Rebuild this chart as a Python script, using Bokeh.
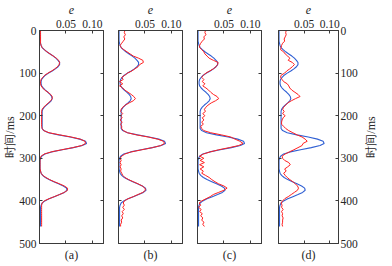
import math
from bokeh.plotting import figure
from bokeh.layouts import row
from bokeh.models import Range1d, LinearAxis, FixedTicker, PrintfTickFormatter
from bokeh.embed import file_html
from bokeh.resources import INLINE

# ---------------- data ----------------
time_ms = list(range(0, 465, 5))

e_true = [
    0.001, 0.001, 0.001, 0.001, 0.001, 0.001, 0.002, 0.003, 0.005, 0.009,
    0.014, 0.020, 0.026, 0.031, 0.035, 0.038, 0.038, 0.035, 0.030, 0.024,
    0.017, 0.011, 0.007, 0.004, 0.003, 0.003, 0.004, 0.007, 0.011, 0.016,
    0.020, 0.023, 0.024, 0.022, 0.018, 0.013, 0.009, 0.006, 0.005, 0.005,
    0.005, 0.005, 0.005, 0.005, 0.005, 0.005, 0.005, 0.008, 0.017, 0.036,
    0.058, 0.076, 0.087, 0.089, 0.081, 0.064, 0.043, 0.023, 0.010, 0.004,
    0.002, 0.001, 0.001, 0.001, 0.001, 0.001, 0.002, 0.003, 0.006, 0.011,
    0.018, 0.027, 0.036, 0.045, 0.051, 0.052, 0.047, 0.038, 0.028, 0.018,
    0.010, 0.005, 0.003, 0.002, 0.002, 0.002, 0.002, 0.002, 0.002, 0.002,
    0.002, 0.002, 0.002,
]

e_a = [
    0.002, 0.002, 0.002, 0.002, 0.002, 0.002, 0.002, 0.003, 0.005, 0.009,
    0.014, 0.020, 0.026, 0.032, 0.036, 0.038, 0.037, 0.034, 0.029, 0.023,
    0.016, 0.010, 0.006, 0.003, 0.002, 0.002, 0.003, 0.006, 0.010, 0.016,
    0.021, 0.024, 0.024, 0.021, 0.017, 0.012, 0.008, 0.005, 0.004, 0.004,
    0.004, 0.004, 0.004, 0.004, 0.004, 0.004, 0.005, 0.008, 0.018, 0.038,
    0.060, 0.077, 0.086, 0.087, 0.080, 0.063, 0.042, 0.022, 0.009, 0.003,
    0.001, 0.001, 0.001, 0.001, 0.001, 0.001, 0.002, 0.003, 0.006, 0.012,
    0.019, 0.028, 0.038, 0.047, 0.053, 0.053, 0.047, 0.038, 0.028, 0.018,
    0.009, 0.005, 0.004, 0.004, 0.004, 0.004, 0.004, 0.004, 0.004, 0.004,
    0.004, 0.004, 0.004,
]

e_b = [
    0.012, 0.011, 0.013, 0.010, 0.012, 0.009, 0.006, 0.003, 0.005, 0.010,
    0.016, 0.022, 0.028, 0.038, 0.046, 0.047, 0.040, 0.037, 0.031, 0.025,
    0.017, 0.012, 0.006, 0.009, 0.002, 0.008, 0.002, 0.008, 0.012, 0.018,
    0.024, 0.029, 0.032, 0.028, 0.020, 0.013, 0.008, 0.005, 0.004, 0.008,
    0.004, 0.007, 0.003, 0.007, 0.004, 0.006, 0.006, 0.009, 0.017, 0.034,
    0.056, 0.074, 0.085, 0.087, 0.080, 0.064, 0.044, 0.024, 0.012, 0.006,
    0.003, 0.005, 0.003, 0.005, 0.003, 0.005, 0.004, 0.006, 0.008, 0.012,
    0.019, 0.028, 0.037, 0.045, 0.050, 0.051, 0.046, 0.037, 0.028, 0.018,
    0.011, 0.009, 0.011, 0.008, 0.011, 0.007, 0.009, 0.006, 0.008, 0.005,
    0.006, 0.004, 0.004,
]

e_c = [
    0.015, 0.014, 0.016, 0.012, 0.013, 0.009, 0.006, 0.004, 0.004, 0.008,
    0.012, 0.014, 0.018, 0.022, 0.030, 0.039, 0.038, 0.035, 0.030, 0.023,
    0.016, 0.011, 0.008, 0.012, 0.009, 0.014, 0.010, 0.016, 0.021, 0.025,
    0.030, 0.037, 0.040, 0.034, 0.026, 0.020, 0.016, 0.013, 0.015, 0.010,
    0.014, 0.009, 0.012, 0.008, 0.011, 0.006, 0.008, 0.012, 0.025, 0.045,
    0.063, 0.071, 0.080, 0.086, 0.078, 0.060, 0.040, 0.024, 0.011, 0.004,
    0.012, 0.005, 0.013, 0.004, 0.012, 0.005, 0.011, 0.008, 0.015, 0.022,
    0.027, 0.033, 0.040, 0.050, 0.056, 0.050, 0.040, 0.030, 0.024, 0.016,
    0.008, 0.003, 0.006, 0.002, 0.007, 0.004, 0.009, 0.006, 0.010, 0.008,
    0.012, 0.010, 0.013,
]

e_d = [
    0.015, 0.014, 0.015, 0.013, 0.011, 0.012, 0.008, 0.006, 0.005, 0.004,
    0.010, 0.013, 0.018, 0.022, 0.019, 0.027, 0.031, 0.027, 0.022, 0.016,
    0.012, 0.005, 0.004, 0.007, 0.010, 0.017, 0.020, 0.022, 0.026, 0.032,
    0.038, 0.042, 0.033, 0.025, 0.018, 0.014, 0.010, 0.008, 0.011, 0.008,
    0.013, 0.009, 0.007, 0.006, 0.006, 0.010, 0.014, 0.020, 0.028, 0.036,
    0.046, 0.052, 0.056, 0.048, 0.046, 0.038, 0.030, 0.021, 0.013, 0.007,
    0.008, 0.012, 0.020, 0.023, 0.018, 0.012, 0.015, 0.010, 0.013, 0.017,
    0.022, 0.028, 0.033, 0.037, 0.039, 0.037, 0.031, 0.025, 0.019, 0.012,
    0.008, 0.005, 0.007, 0.006, 0.009, 0.006, 0.008, 0.007, 0.009, 0.008,
    0.008, 0.007, 0.008,
]

red_series = [e_a, e_b, e_c, e_d]
panel_labels = ["(a)", "(b)", "(c)", "(d)"]
x_ticks = [0.05, 0.10]
y_ticks = [0, 100, 200, 300, 400, 500]
x_label = "e"
y_label = "时间/ms"

# ---------------- style ----------------
FONT = "Liberation Serif"
AXC = "#3a3a3a"
TXT = "#262626"
BLUE = "#2f5fd3"
RED = "#ff1f1f"

# frame geometry per panel: (frame width, x max, left border, right border)
geom = [
    (64, 0.121, 38, 8),
    (64, 0.121, 7, 7),
    (64, 0.121, 8, 8),
    (60, 0.117, 9, 22),
]


def style_axis(ax, show_labels):
    ax.axis_line_color = AXC
    ax.axis_line_width = 1
    ax.major_tick_line_color = AXC
    ax.major_tick_in = 3
    ax.major_tick_out = 0
    ax.minor_tick_line_color = None
    ax.major_label_text_font = FONT
    ax.major_label_text_color = TXT
    ax.axis_label_text_font = FONT
    ax.axis_label_text_color = TXT
    ax.axis_label_text_font_style = "normal"
    ax.axis_label_text_font_size = "12px"
    ax.major_label_text_font_size = "11.5px"
    if show_labels:
        ax.major_label_standoff = 3
    else:
        ax.major_label_text_color = None
        ax.major_label_standoff = 0


def base_figure(fw, xmax, lb, rb):
    return figure(
        frame_width=fw, frame_height=213,
        min_border_left=lb, min_border_right=rb,
        min_border_top=30, min_border_bottom=23,
        x_range=Range1d(0, xmax), y_range=Range1d(500, 0),
        x_axis_type=None, y_axis_type=None,
        toolbar_location=None, output_backend="svg",
        background_fill_color="white", border_fill_color="white",
    )


figs = []
for i in range(4):
    fw, xmax, lb, rb = geom[i]
    p = base_figure(fw, xmax, lb, rb)
    p.outline_line_color = AXC

    top = LinearAxis(ticker=FixedTicker(ticks=x_ticks),
                     formatter=PrintfTickFormatter(format="%.2f"),
                     axis_label=x_label)
    style_axis(top, True)
    top.axis_label_text_font_style = "italic"
    top.axis_label_standoff = 3
    p.add_layout(top, "above")

    bottom = LinearAxis(ticker=FixedTicker(ticks=x_ticks),
                        axis_label=panel_labels[i])
    style_axis(bottom, False)
    bottom.axis_label_standoff = 4
    p.add_layout(bottom, "below")

    left = LinearAxis(ticker=FixedTicker(ticks=y_ticks))
    style_axis(left, i == 0)
    if i == 0:
        left.axis_label = y_label
        left.axis_label_standoff = -1
    p.add_layout(left, "left")

    right = LinearAxis(ticker=FixedTicker(ticks=y_ticks))
    style_axis(right, i == 3)
    if i == 3:
        right.major_label_standoff = 2
    p.add_layout(right, "right")

    p.line(e_true, time_ms, line_color=BLUE, line_width=1.1)
    p.line(red_series[i], time_ms, line_color=RED, line_width=1.0)
    figs.append(p)

# narrow strip carrying the right-hand axis title (reads bottom to top)
strip = base_figure(1, 1, 17, 15)
strip.outline_line_color = None
ttl = LinearAxis(ticker=FixedTicker(ticks=[]), axis_label=y_label)
ttl.axis_line_color = None
ttl.major_tick_line_color = None
ttl.minor_tick_line_color = None
ttl.major_label_text_color = None
ttl.major_label_standoff = 0
ttl.axis_label_standoff = 0
ttl.axis_label_text_font = FONT
ttl.axis_label_text_color = TXT
ttl.axis_label_text_font_style = "normal"
ttl.axis_label_text_font_size = "12px"
strip.add_layout(ttl, "left")
figs.append(strip)

layout = row(*figs, spacing=0)
open("out.html", "w").write(file_html(layout, INLINE))
